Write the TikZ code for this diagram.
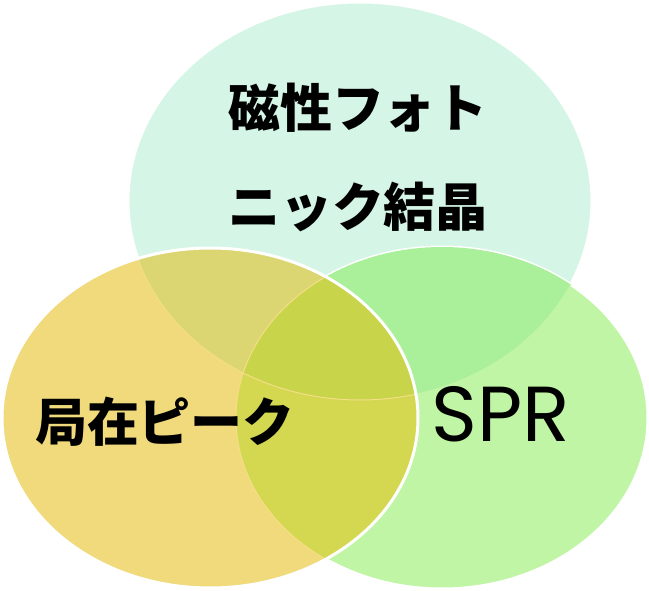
\documentclass[tikz,border=0pt]{standalone}
\usepackage{fontspec}
\newfontfamily\cjk{Noto Sans CJK JP}
\newfontfamily\sprfont{Poppins}
\definecolor{mint}{HTML}{D5F5E6}
\definecolor{grn}{HTML}{C0F5A5}
\definecolor{gold}{HTML}{F0DA7C}
\definecolor{tg}{HTML}{AAF09A}
\definecolor{tl}{HTML}{DBD672}
\definecolor{lr}{HTML}{D4D850}
\definecolor{allc}{HTML}{C8D44A}
\definecolor{faintg}{HTML}{C4F4AC}
\definecolor{fainty}{HTML}{F5DE88}
\tikzset{
  rim/.style={draw=white, line width=3pt},
  jp/.style={font=\cjk\bfseries\fontsize{52}{52}\selectfont, inner sep=0pt},
  lat/.style={font=\sprfont\fontsize{78}{78}\selectfont, inner sep=0pt}
}
\begin{document}
\begin{tikzpicture}[x=1pt,y=-1pt]
\useasboundingbox (0,0) rectangle (649,591);
\def\Tp{(360,201) ellipse [x radius=232pt, y radius=199pt]}
\def\Lp{(210,418) ellipse [x radius=208pt, y radius=170pt]}
\def\Rp{(442,418) ellipse [x radius=206pt, y radius=171pt]}
\fill[mint] \Tp; \draw[rim] \Tp;
\fill[grn] \Rp; \draw[rim] \Rp;
\begin{scope}
  \clip \Rp;
  \fill[tg] \Tp;
  \draw[faintg, line width=1pt] \Tp;
\end{scope}
\fill[gold] \Lp;
\begin{scope}
  \clip \Lp;
  \fill[tl] \Tp;
  \fill[lr] \Rp;
  \begin{scope}
    \clip \Tp;
    \fill[allc] \Rp;
  \end{scope}
  \draw[fainty, line width=1pt] \Tp;
  \draw[fainty, line width=1pt] \Rp;
\end{scope}
\draw[rim] \Lp;
\node[jp] (t1) at (358,108) {磁性フォト};
\node[jp] (t2) at (358,207) {ニック結晶};
\node[jp] (t3) at (165,422) {局在ピーク};
\node[lat] (t4) at (501,414) {SPR};
\end{tikzpicture}
\end{document}
